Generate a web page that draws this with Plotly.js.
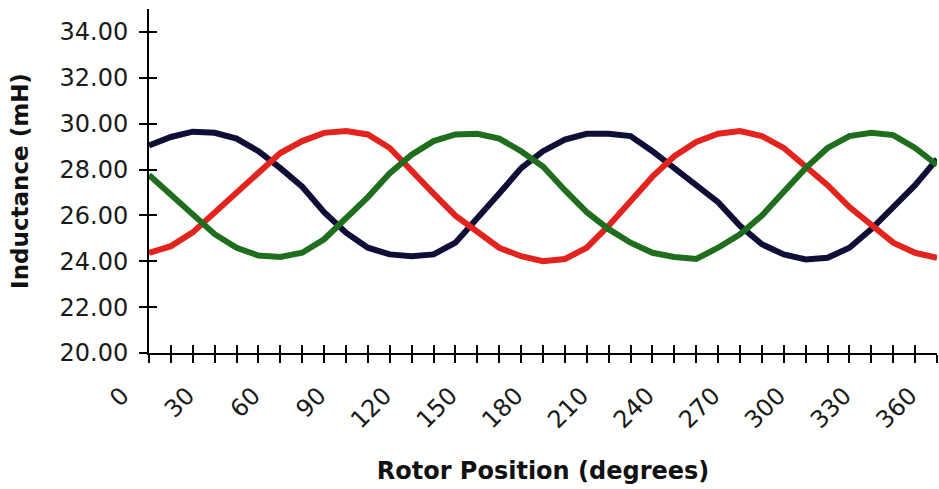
<!DOCTYPE html>
<html>
<head>
<meta charset="utf-8">
<script src="https://cdn.plot.ly/plotly-3.0.1.min.js"></script>
<style>html,body{margin:0;padding:0;background:#fff;}#chart{width:939px;height:489px;}</style>
</head>
<body>
<div id="chart"></div>
<script>
const positions = [0,10,20,30,40,50,60,70,80,90,100,110,120,130,140,150,160,170,180,190,200,210,220,230,240,250,260,270,280,290,300,310,320,330,340,350,360];
const phaseA = [29.05,29.42,29.65,29.6,29.35,28.8,28.06,27.25,26.14,25.25,24.59,24.3,24.22,24.3,24.81,25.85,26.95,28.06,28.8,29.31,29.56,29.56,29.46,28.8,28.06,27.3,26.58,25.55,24.74,24.3,24.08,24.15,24.59,25.4,26.36,27.32,28.45];
const phaseB = [24.37,24.66,25.26,26.14,27.03,27.91,28.72,29.24,29.6,29.68,29.53,28.94,27.9,26.95,25.99,25.26,24.59,24.22,24.0,24.1,24.59,25.55,26.58,27.69,28.58,29.2,29.56,29.68,29.46,28.94,28.13,27.32,26.36,25.55,24.81,24.37,24.15];
const phaseC = [27.76,26.88,25.99,25.18,24.59,24.25,24.19,24.37,24.96,25.85,26.8,27.84,28.65,29.24,29.53,29.56,29.35,28.8,28.13,27.1,26.14,25.4,24.81,24.37,24.19,24.1,24.59,25.18,25.99,27.03,28.06,28.94,29.46,29.6,29.5,28.94,28.2];
const xTickVals = [0,30,60,90,120,150,180,210,240,270,300,330,360];
const xTickText = ["0","30","60","90","120","150","180","210","240","270","300","330","360"];
const yTickVals = [20,22,24,26,28,30,32,34];
const yTickText = ["20.00","22.00","24.00","26.00","28.00","30.00","32.00","34.00"];

const traces = [
  {x: positions, y: phaseA, mode: 'lines', line: {color: '#0e0e36', width: 6}, name: 'A'},
  {x: positions, y: phaseB, mode: 'lines', line: {color: '#e2231e', width: 6}, name: 'B'},
  {x: positions, y: phaseC, mode: 'lines', line: {color: '#1e6e1e', width: 6}, name: 'C', xaxis: 'x2', yaxis: 'y2'}
];

const tickFont = {family: 'DejaVu Sans, sans-serif', size: 24, color: '#1a1a1a'};
const layout = {
  width: 939, height: 489,
  margin: {l: 149, r: 2, t: 9, b: 136},
  paper_bgcolor: '#fff', plot_bgcolor: '#fff',
  showlegend: false,
  xaxis: {
    range: [0, 360], tickmode: 'array', tickvals: xTickVals, ticktext: xTickText,
    tickangle: -45, tickfont: tickFont, ticks: 'outside', ticklen: 8, tickwidth: 2, tickcolor: '#000',
    minor: {dtick: 10, ticks: 'outside', ticklen: 8, tickwidth: 2, tickcolor: '#000'},
    ticklabelstandoff: 9, ticklabelshift: -27,
    showline: true, linecolor: '#000', linewidth: 2, showgrid: false, zeroline: false,
    automargin: true,
    title: {text: 'Rotor Position (degrees)', standoff: 29, font: {family: 'DejaVu Sans, sans-serif', size: 24, weight: 'bold', color: '#111'}}
  },
  yaxis: {
    range: [20, 35], tickmode: 'array', tickvals: yTickVals, ticktext: yTickText,
    tickfont: tickFont, ticks: 'outside', ticklen: 8, tickwidth: 2, tickcolor: '#000',
    ticklabelstandoff: 6,
    showline: true, linecolor: '#000', linewidth: 2, showgrid: false, zeroline: false,
    automargin: true,
    title: {text: 'Inductance (mH)', standoff: 24, font: {family: 'DejaVu Sans, sans-serif', size: 23, weight: 'bold', color: '#111'}}
  },
  xaxis2: {
    overlaying: 'x', anchor: 'y2', side: 'bottom', range: [0, 360], dtick: 10,
    ticks: 'inside', ticklen: 8, tickwidth: 2, tickcolor: '#000', showticklabels: false,
    showline: false, showgrid: false, zeroline: false
  },
  yaxis2: {
    overlaying: 'y', anchor: 'x2', side: 'left', range: [20, 35], tickvals: yTickVals,
    ticks: 'inside', ticklen: 8, tickwidth: 2, tickcolor: '#000', showticklabels: false,
    showline: false, showgrid: false, zeroline: false
  }
};
Plotly.newPlot('chart', traces, layout, {displayModeBar: false, staticPlot: true});
</script>
</body>
</html>
